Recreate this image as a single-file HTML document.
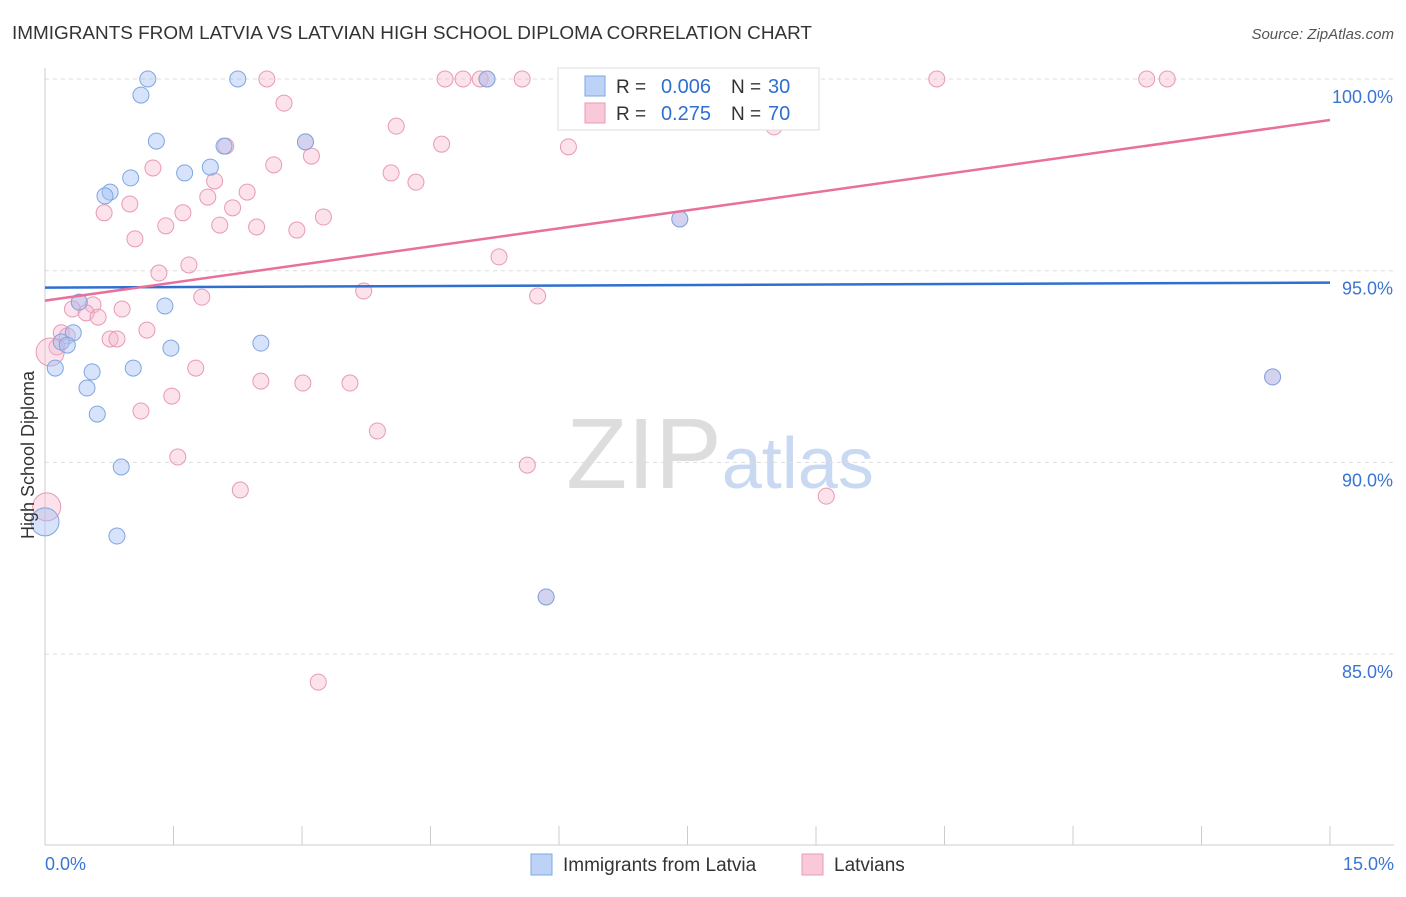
<!DOCTYPE html>
<html><head><meta charset="utf-8"><style>
body{margin:0;background:#fff;font-family:"Liberation Sans",sans-serif}
svg text{font-family:"Liberation Sans",sans-serif}
</style></head><body>
<svg id="chart" width="1406" height="892" xmlns="http://www.w3.org/2000/svg">
<text x="12" y="39" font-size="18" fill="#333" textLength="800" lengthAdjust="spacingAndGlyphs">IMMIGRANTS FROM LATVIA VS LATVIAN HIGH SCHOOL DIPLOMA CORRELATION CHART</text>
<text x="1394" y="39" font-size="15" fill="#555" text-anchor="end" font-style="italic">Source: ZipAtlas.com</text>
<text x="720" y="488" font-size="100" fill="#ddd" text-anchor="middle" font-family="Liberation Serif">ZIP<tspan fill="#c9d9f2" font-family="Liberation Sans" font-size="72">atlas</tspan></text>
<g id="grid"></g><g id="axes"></g><g id="pts"></g><g id="lines"></g>
<text transform="translate(34,455) rotate(-90)" font-size="18" fill="#333" text-anchor="middle">High School Diploma</text>
<g>
<rect x="558" y="68" width="261" height="62" fill="#fff" stroke="#ddd"/>
<rect x="585" y="76" width="20" height="20" fill="#bcd3f7" stroke="#7fa6e0"/>
<rect x="585" y="103" width="20" height="20" fill="#f9c9d9" stroke="#e89ab5"/>
<text x="616" y="93" font-size="19" fill="#333">R =</text>
<text x="711" y="93" font-size="20" fill="#2f6fd0" text-anchor="end">0.006</text>
<text x="731" y="93" font-size="19" fill="#333">N =</text>
<text x="768" y="93" font-size="20" fill="#2f6fd0">30</text>
<text x="616" y="120" font-size="19" fill="#333">R =</text>
<text x="711" y="120" font-size="20" fill="#2f6fd0" text-anchor="end">0.275</text>
<text x="731" y="120" font-size="19" fill="#333">N =</text>
<text x="768" y="120" font-size="20" fill="#2f6fd0">70</text>
</g>
<g>
<rect x="531" y="854" width="21" height="21" fill="#bcd3f7" stroke="#7fa6e0"/>
<text x="563" y="871" font-size="19" fill="#333">Immigrants from Latvia</text>
<rect x="802" y="854" width="21" height="21" fill="#f9c9d9" stroke="#e89ab5"/>
<text x="834" y="871" font-size="19" fill="#333">Latvians</text>
</g>
</svg>
<script>
const blueX=[1.20,2.25,5.16,1.12,1.30,3.04,2.09,1.93,1.63,1.00,0.76,0.70,7.41,1.40,0.40,0.33,0.19,0.26,1.47,2.52,0.12,0.55,1.03,0.49,0.61,0.89,14.33,0.84,5.85,0];
const blueY=[100,100,100,99.58,98.38,98.36,98.25,97.70,97.55,97.42,97.05,96.95,96.35,94.08,94.18,93.38,93.14,93.06,92.98,93.11,92.46,92.36,92.46,91.94,91.26,89.88,92.23,88.08,86.49,88.45];
const blueBig=[29];
const pinkX=[2.59,4.67,4.88,5.08,5.57,7.97,10.41,12.86,13.10,2.79,4.10,2.11,4.63,6.11,3.04,3.11,8.51,1.26,2.67,1.98,4.04,4.33,2.36,1.90,0.99,0.69,1.61,2.19,1.41,2.04,2.47,2.94,3.25,1.05,7.41,1.68,1.33,5.30,3.72,5.75,1.83,0.40,0.56,0.32,0.90,0.48,0.62,0.19,1.19,0.26,0.76,0.84,0.14,1.76,2.52,3.01,3.56,1.12,1.48,3.88,1.55,5.63,2.28,9.12,3.19,14.33,5.85,0.06,0.02,5.16];
const pinkY=[100,100,100,100,100,100,100,100,100,99.37,98.77,98.25,98.30,98.23,98.36,97.99,98.75,97.68,97.76,97.34,97.55,97.31,97.05,96.92,96.74,96.51,96.51,96.64,96.17,96.19,96.14,96.06,96.40,95.83,96.35,95.15,94.94,95.36,94.47,94.34,94.31,94.18,94.11,94.00,94.00,93.90,93.79,93.38,93.45,93.30,93.22,93.22,93.01,92.46,92.12,92.07,92.07,91.34,91.73,90.82,90.14,89.93,89.28,89.12,84.27,92.23,86.49,92.88,88.84,100];
const pinkBig=[67,68];
const blueTrend=[94.56,94.69];
const pinkTrend=[94.22,98.93];
const yTicks=[100,95,90,85];
const yTickLabels=["100.0%","95.0%","90.0%","85.0%"];
const xTickVals=[0,1.5,3,4.5,6,7.5,9,10.5,12,13.5,15];
const NS="http://www.w3.org/2000/svg";
const X=v=>45+v/15*1285, Y=v=>79+(100-v)/5*191.7;
function mk(p,t,a){const e=document.createElementNS(NS,t);for(const k in a)e.setAttribute(k,a[k]);p.appendChild(e);return e;}
const grid=document.getElementById('grid'),axes=document.getElementById('axes'),pts=document.getElementById('pts'),lines=document.getElementById('lines');
yTicks.forEach((t,i)=>{const l=mk(grid,'line',{x1:45,x2:1394,y1:Y(t),y2:Y(t),stroke:'#ddd','stroke-dasharray':'4,4'});


const tx=mk(axes,'text',{x:1393,y:Y(t)+24,'font-size':18,fill:'#3b74d4','text-anchor':'end'});tx.textContent=yTickLabels[i];

});
const ya=mk(axes,'line',{x1:45,x2:45,y1:68,y2:845,stroke:'#ccc'});


const xa=mk(axes,'line',{x1:45,x2:1394,y1:845,y2:845,stroke:'#ccc'});


xTickVals.forEach(v=>{const t=mk(axes,'line',{x1:X(v),x2:X(v),y1:826,y2:845,stroke:'#ccc'});

});
const x0=mk(axes,'text',{x:45,y:870,'font-size':18,fill:'#3b74d4'});x0.textContent='0.0%';


const x1=mk(axes,'text',{x:1394,y:870,'font-size':18,fill:'#3b74d4','text-anchor':'end'});x1.textContent='15.0%';


pinkX.forEach((v,i)=>{const c=mk(pts,'circle',{cx:X(v),cy:Y(pinkY[i]),r:pinkBig.includes(i)?14:8,fill:'rgba(244,182,204,0.4)',stroke:'#e89ab5','stroke-width':1});

});
blueX.forEach((v,i)=>{const c=mk(pts,'circle',{cx:X(v),cy:Y(blueY[i]),r:blueBig.includes(i)?14:8,fill:'rgba(164,194,244,0.45)',stroke:'#7fa6e0','stroke-width':1});

});
const bl=mk(lines,'line',{x1:X(0),x2:X(15),y1:Y(blueTrend[0]),y2:Y(blueTrend[1]),stroke:'#2f6fd0','stroke-width':2.5});


const pl=mk(lines,'line',{x1:X(0),x2:X(15),y1:Y(pinkTrend[0]),y2:Y(pinkTrend[1]),stroke:'#e8709a','stroke-width':2.5});


</script>
</body></html>
